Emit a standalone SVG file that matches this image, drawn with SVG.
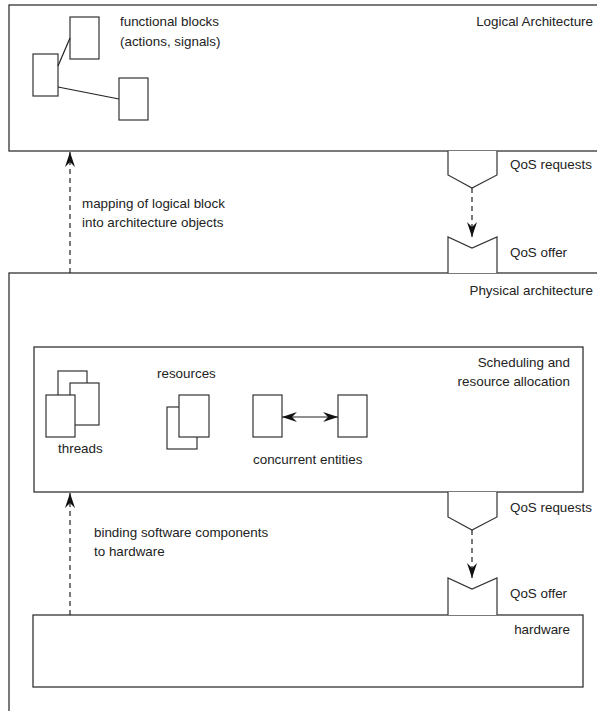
<svg xmlns="http://www.w3.org/2000/svg" width="597" height="711" viewBox="0 0 597 711">
  <style>
    .box { fill: #fff; stroke: #333; stroke-width: 1.3; }
    .blk { fill: #fff; stroke: #333; stroke-width: 1.2; }
    .ln { fill: none; stroke: #222; stroke-width: 1.2; }
    .dash { fill: none; stroke: #222; stroke-width: 1.2; stroke-dasharray: 5 4; }
    .qos { fill: #fff; stroke: #333; stroke-width: 1.2; }
    text { font-family: "Liberation Sans", Arial, sans-serif; font-size: 13.4px; fill: #222; }
    .end { text-anchor: end; }
  </style>
  <defs>
    <marker id="head" markerUnits="userSpaceOnUse" markerWidth="20" markerHeight="14" viewBox="-16 -7 20 14" refX="0" refY="0" orient="auto">
      <path d="M0,0 L-15,-5 L-10,0 L-15,5 Z" fill="#111"/>
    </marker>
    <marker id="headStart" markerUnits="userSpaceOnUse" markerWidth="20" markerHeight="14" viewBox="-16 -7 20 14" refX="0" refY="0" orient="auto-start-reverse">
      <path d="M0,0 L-15,-5 L-10,0 L-15,5 Z" fill="#111"/>
    </marker>
  </defs>

  <!-- logical architecture layer -->
  <g id="logical">
    <rect class="box" x="9" y="5" width="620" height="146"/>
    <text class="end" x="593" y="26">Logical Architecture</text>
    <text x="120" y="26">functional blocks</text>
    <text x="120" y="46">(actions, signals)</text>
  </g>
  <g id="block-a"><rect class="blk" x="70" y="17" width="29" height="42"/></g>
  <g id="block-b"><rect class="blk" x="33" y="54" width="25" height="42"/></g>
  <g id="block-c"><rect class="blk" x="119" y="78" width="29" height="42"/></g>

  <!-- physical architecture layer -->
  <g id="physical">
    <rect class="box" x="9" y="273" width="620" height="460"/>
    <text class="end" x="593" y="295">Physical architecture</text>
  </g>

  <g id="scheduling">
    <rect class="box" x="34" y="347" width="549" height="145"/>
    <text class="end" x="570" y="367">Scheduling and</text>
    <text class="end" x="570" y="386">resource allocation</text>
  </g>

  <g id="threads">
    <rect class="blk" x="58" y="371" width="29" height="42"/>
    <rect class="blk" x="70" y="383" width="29" height="42"/>
    <rect class="blk" x="46" y="395" width="29" height="42"/>
    <text x="58" y="453">threads</text>
  </g>

  <g id="resources">
    <rect class="blk" x="167" y="407" width="30" height="42"/>
    <rect class="blk" x="179" y="395" width="30" height="42"/>
    <text x="157" y="378">resources</text>
  </g>

  <g id="entity-a"><rect class="blk" x="253" y="395" width="29" height="42"/></g>
  <g id="entity-b"><rect class="blk" x="338" y="395" width="29" height="42"/></g>
  <g id="entities-label"><text x="253" y="464">concurrent entities</text></g>

  <g id="hardware">
    <rect class="box" x="33" y="615" width="550" height="72"/>
    <text class="end" x="570" y="634">hardware</text>
  </g>

  <!-- QoS request / offer ports -->
  <g id="qos-req-1">
    <path class="qos" d="M448,151 L448,175 L472,188 L497,175 L497,151"/>
    <text x="510" y="169">QoS requests</text>
  </g>
  <g id="qos-off-1">
    <path class="qos" d="M448,273 L448,237 L472,248 L497,237 L497,273"/>
    <text x="510" y="257">QoS offer</text>
  </g>
  <g id="qos-req-2">
    <path class="qos" d="M448,492 L448,517 L472,530 L497,517 L497,492"/>
    <text x="510" y="512">QoS requests</text>
  </g>
  <g id="qos-off-2">
    <path class="qos" d="M448,615 L448,578 L472,589 L497,578 L497,615"/>
    <text x="510" y="598">QoS offer</text>
  </g>

  <g id="annotations">
    <text x="82" y="208">mapping of logical block</text>
    <text x="82" y="227">into architecture objects</text>
    <text x="94" y="537">binding software components</text>
    <text x="94" y="556">to hardware</text>
  </g>

  <!-- connectors -->
  <g id="connectors">
    <line class="ln" x1="58" y1="66" x2="70" y2="38"/>
    <line class="ln" x1="58" y1="87" x2="119" y2="99"/>
    <line class="ln" x1="282" y1="417" x2="338" y2="417" marker-start="url(#headStart)" marker-end="url(#head)"/>
    <line class="dash" x1="70" y1="273" x2="70" y2="152" marker-end="url(#head)"/>
    <line class="dash" x1="70" y1="615" x2="70" y2="493" marker-end="url(#head)"/>
    <line class="dash" x1="472" y1="188" x2="472" y2="237" marker-end="url(#head)"/>
    <line class="dash" x1="472" y1="530" x2="472" y2="578" marker-end="url(#head)"/>
  </g>
</svg>
